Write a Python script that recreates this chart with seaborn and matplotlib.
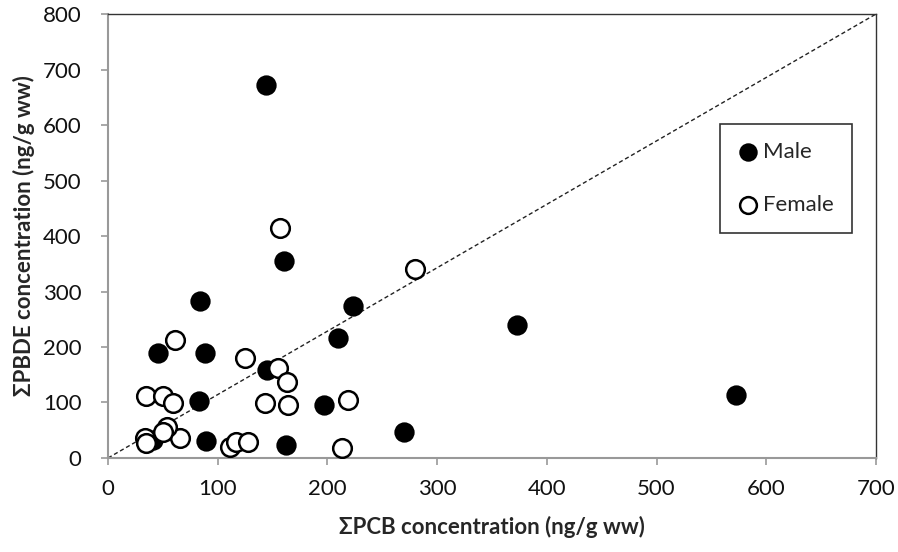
import matplotlib
matplotlib.use("Agg")
import matplotlib.pyplot as plt
import seaborn as sns
import pandas as pd

male_pcb = [144, 160, 84, 223, 46, 88, 210, 373, 83, 145, 197, 89, 162, 270, 572, 41]
male_pbde = [672, 355, 283, 274, 189, 189, 216, 240, 103, 158, 95, 30, 23, 47, 113, 32]

female_pcb = [157, 280, 61, 125, 35, 50, 59, 155, 163, 143, 164, 219, 66, 111, 117, 128, 213, 34, 35, 54, 50]
female_pbde = [414, 340, 213, 180, 112, 112, 99, 162, 137, 99, 95, 104, 36, 20, 29, 29, 18, 36, 27, 56, 47]

x_ticks = [0, 100, 200, 300, 400, 500, 600, 700]
y_ticks = [0, 100, 200, 300, 400, 500, 600, 700, 800]

df = pd.DataFrame({
    "pcb": male_pcb + female_pcb,
    "pbde": male_pbde + female_pbde,
    "sex": ["Male"] * len(male_pcb) + ["Female"] * len(female_pcb),
})

sns.set_style("white")
plt.rcParams["font.family"] = ["Lato", "DejaVu Sans"]

fig = plt.figure(figsize=(8.98, 5.52), dpi=100)
ax = fig.add_axes([0.1203, 0.1703, 0.8552, 0.8043])

# reference line corner to corner
ax.plot([x_ticks[0], x_ticks[-1]], [y_ticks[0], y_ticks[-1]], ls=(0, (3, 2)), color="#222222", lw=1.0, zorder=1)

sns.scatterplot(data=df[df.sex == "Male"], x="pcb", y="pbde", ax=ax, s=180,
                color="black", edgecolor="black", linewidth=1.2, label="Male", zorder=3)
sns.scatterplot(data=df[df.sex == "Female"], x="pcb", y="pbde", ax=ax, s=180,
                color="white", edgecolor="black", linewidth=1.8, label="Female", zorder=4)

ax.set_xlim(0, 700)
ax.set_ylim(0, 800)
ax.set_xticks(x_ticks)
ax.set_yticks(y_ticks)
ax.tick_params(axis="both", labelsize=16, length=5, width=1.2, color="#999999",
               direction="out", labelcolor="#111111", bottom=True, left=True)
ax.tick_params(axis="x", pad=10)
ax.tick_params(axis="y", pad=14)

for side in ["left", "bottom"]:
    ax.spines[side].set_color("#999999")
    ax.spines[side].set_linewidth(1.5)
for side in ["top", "right"]:
    ax.spines[side].set_color("#333333")
    ax.spines[side].set_linewidth(1.0)
    ax.spines[side].set_visible(True)

ax.set_xlabel("ΣPCB concentration (ng/g ww)", fontsize=16, fontweight="bold", labelpad=12)
ax.set_ylabel("ΣPBDE concentration (ng/g ww)", fontsize=16, fontweight="bold", labelpad=6)

leg = ax.legend(loc="upper left", bbox_to_anchor=(0.797, 0.752), frameon=True, fancybox=False,
                edgecolor="black", fontsize=16, markerscale=0.9, handlelength=0.9,
                handletextpad=0.25, labelspacing=1.5, borderpad=0.8, borderaxespad=0)
leg.get_frame().set_linewidth(1.2)

fig.savefig("out.png", dpi=100)
